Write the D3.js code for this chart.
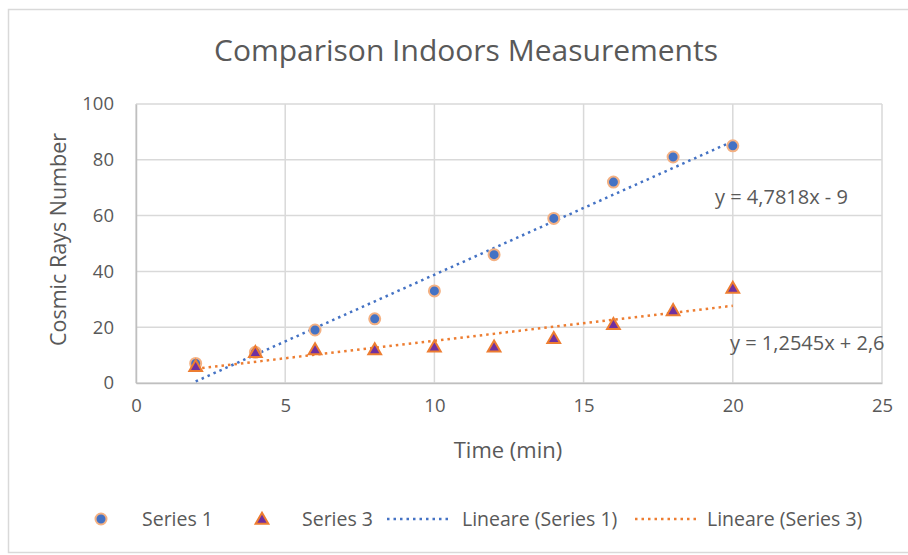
<!DOCTYPE html>
<html>
<head>
<meta charset="utf-8">
<script src="https://cdn.jsdelivr.net/npm/d3@7"></script>
<style>
  html, body { margin: 0; padding: 0; background: #fff; }
  svg text { font-family: "Open Sans", sans-serif; fill: #595959; }
</style>
</head>
<body>
<svg id="chart" width="908" height="555"></svg>
<script>
// --- data ---
const times = [2, 4, 6, 8, 10, 12, 14, 16, 18, 20];
const series1 = [7, 11, 19, 23, 33, 46, 59, 72, 81, 85];
const series3 = [6, 11, 12, 12, 13, 13, 16, 21, 26, 34];
const trend1 = { slope: 4.7818, intercept: -9, label: 'y = 4,7818x - 9' };
const trend3 = { slope: 1.2545, intercept: 2.6, label: 'y = 1,2545x + 2,6' };
const xTicks = [0, 5, 10, 15, 20, 25];
const yTicks = [0, 20, 40, 60, 80, 100];
const legendItems = ['Series 1', 'Series 3', 'Lineare (Series 1)', 'Lineare (Series 3)'];

const blue = '#4472C4';
const orange = '#ED7D31';
const purple = '#7030A0';
const grid = '#d9d9d9';

const svg = d3.select('#chart');
const margin = { top: 104, right: 26, bottom: 172, left: 136 };
const width = 908, height = 555;

// chart frame
svg.append('rect')
    .attr('x', 8.5).attr('y', 9.5)
    .attr('width', 910).attr('height', 543)
    .attr('fill', 'none').attr('stroke', '#d9d9d9').attr('stroke-width', 1.5);

const x = d3.scaleLinear().domain([0, 25]).range([margin.left, width - margin.right]);
const y = d3.scaleLinear().domain([0, 100]).range([height - margin.bottom, margin.top]);

// gridlines
const gridG = svg.append('g');
gridG.selectAll('.gx').data(xTicks).join('line')
    .attr('x1', d => x(d)).attr('x2', d => x(d))
    .attr('y1', y(0)).attr('y2', y(100))
    .attr('stroke', grid).attr('stroke-width', 1.5);
gridG.selectAll('.gy').data(yTicks).join('line')
    .attr('x1', x(0)).attr('x2', x(25))
    .attr('y1', d => y(d)).attr('y2', d => y(d))
    .attr('stroke', grid).attr('stroke-width', 1.5);

// axes (labels only, lines are the gridlines)
svg.append('g')
    .attr('transform', `translate(0, ${y(0)})`)
    .call(d3.axisBottom(x).tickValues(xTicks).tickSize(0).tickPadding(16));
svg.append('g')
    .attr('transform', `translate(${x(0)}, 0)`)
    .call(d3.axisLeft(y).tickValues(yTicks).tickSize(0).tickPadding(22));
svg.selectAll('.domain').attr('stroke', '#bfbfbf').attr('stroke-width', 1.5);
svg.selectAll('.tick text').style('font-family', '"Open Sans", sans-serif')
    .style('font-size', '18.5px').attr('fill', '#595959');

// title and axis titles
svg.append('text')
    .attr('x', 466).attr('y', 61).attr('text-anchor', 'middle')
    .style('font-size', '30px')
    .text('Comparison Indoors Measurements');
svg.append('text')
    .attr('x', 508).attr('y', 458).attr('text-anchor', 'middle')
    .style('font-size', '22px')
    .text('Time (min)');
svg.append('text')
    .attr('transform', `translate(66, ${y(50) - 4}) rotate(-90)`)
    .attr('text-anchor', 'middle')
    .style('font-size', '21.5px')
    .text('Cosmic Rays Number');

// trend lines
const line = d3.line().x(d => x(d[0])).y(d => y(d[1]));
const xFirst = times[0], xLast = times[times.length - 1];
[[trend1, blue], [trend3, orange]].forEach(([t, c]) => {
    svg.append('path')
        .attr('d', line([[xFirst, t.slope * xFirst + t.intercept], [xLast, t.slope * xLast + t.intercept]]))
        .attr('fill', 'none').attr('stroke', c)
        .attr('stroke-width', 2.5).attr('stroke-dasharray', '2.5,4');
});

// markers
const tri = d3.symbol().type(d3.symbolTriangle).size(70);
svg.append('g').selectAll('circle').data(times).join('circle')
    .attr('cx', d => x(d)).attr('cy', (d, i) => y(series1[i]))
    .attr('r', 5.5)
    .attr('fill', blue).attr('stroke', '#F4B183').attr('stroke-width', 2);
svg.append('g').selectAll('path').data(times).join('path')
    .attr('d', tri)
    .attr('transform', (d, i) => `translate(${x(d)}, ${y(series3[i]) + 1})`)
    .attr('fill', purple).attr('stroke', orange).attr('stroke-width', 2);

// equation labels
svg.append('text').attr('x', 715).attr('y', 204)
    .style('font-size', '20px').text(trend1.label);
svg.append('text').attr('x', 730).attr('y', 350)
    .style('font-size', '20px').text(trend3.label);

// legend
const legY = 519;
const legend = svg.append('g');
legend.append('circle').attr('cx', 101).attr('cy', legY).attr('r', 5.5)
    .attr('fill', blue).attr('stroke', '#F4B183').attr('stroke-width', 2);
legend.append('path').attr('d', tri).attr('transform', `translate(262, ${legY + 1})`)
    .attr('fill', purple).attr('stroke', orange).attr('stroke-width', 2);
legend.append('line').attr('x1', 387).attr('x2', 450).attr('y1', legY).attr('y2', legY)
    .attr('stroke', blue).attr('stroke-width', 2.5).attr('stroke-dasharray', '2.5,4');
legend.append('line').attr('x1', 635).attr('x2', 697).attr('y1', legY).attr('y2', legY)
    .attr('stroke', orange).attr('stroke-width', 2.5).attr('stroke-dasharray', '2.5,4');
const legX = [142, 302, 462, 707];
legend.selectAll('text').data(legendItems).join('text')
    .attr('x', (d, i) => legX[i]).attr('y', legY + 7)
    .style('font-size', '19.5px')
    .text(d => d);
</script>
</body>
</html>
